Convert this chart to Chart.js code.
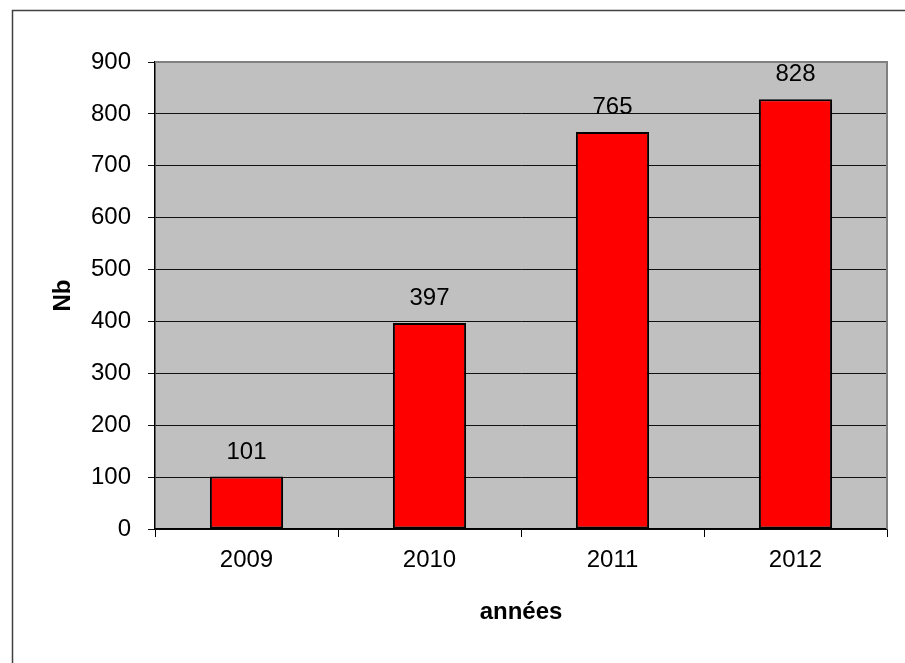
<!DOCTYPE html>
<html>
<head>
<meta charset="utf-8">
<script src="https://cdn.jsdelivr.net/npm/chart.js@4/dist/chart.umd.min.js"></script>
<style>
  html, body { margin: 0; padding: 0; background: #ffffff; }
  #wrap { width: 905px; height: 663px; }
</style>
</head>
<body>
<div id="wrap"><canvas id="chart" width="905" height="663"></canvas></div>
<script>
// Données
const annees = ['2009', '2010', '2011', '2012'];
const nombres = [101, 397, 765, 828];
const yTicks = [0, 100, 200, 300, 400, 500, 600, 700, 800, 900];

const FONT = '"Liberation Sans", Arial, sans-serif';
const FONT_SIZE = 24;

// fond gris de la zone de tracé + cadre extérieur
const plotBackground = {
    id: 'plotBackground',
    beforeDraw(chart) {
        const { ctx, chartArea: a } = chart;
        ctx.save();
        ctx.fillStyle = '#c0c0c0';
        ctx.fillRect(a.left, a.top, a.right - a.left, a.bottom - a.top);
        // cadre du graphique (seuls les bords gauche et haut sont visibles)
        ctx.strokeStyle = '#404040';
        ctx.lineWidth = 1.5;
        ctx.beginPath();
        ctx.moveTo(12.5, chart.height + 5);
        ctx.lineTo(12.5, 10.5);
        ctx.lineTo(chart.width + 5, 10.5);
        ctx.stroke();
        ctx.restore();
    },
    afterDraw(chart) {
        const { ctx, chartArea: a } = chart;
        ctx.save();
        ctx.strokeStyle = '#808080';
        ctx.lineWidth = 2;
        ctx.beginPath();
        ctx.moveTo(a.left, a.top);
        ctx.lineTo(a.right, a.top);
        ctx.lineTo(a.right, a.bottom);
        ctx.stroke();
        ctx.restore();
    }
};

// étiquettes de valeurs au-dessus des barres
const valueLabels = {
    id: 'valueLabels',
    afterDatasetsDraw(chart) {
        const { ctx } = chart;
        const meta = chart.getDatasetMeta(0);
        ctx.save();
        ctx.fillStyle = '#000000';
        ctx.font = FONT_SIZE + 'px ' + FONT;
        ctx.textAlign = 'center';
        ctx.textBaseline = 'alphabetic';
        meta.data.forEach((bar, i) => {
            ctx.fillText(String(nombres[i]), bar.x, bar.y - 18);
        });
        ctx.restore();
    }
};

new Chart(document.getElementById('chart'), {
    type: 'bar',
    data: {
        labels: annees,
        datasets: [{
            label: 'Nb',
            data: nombres,
            backgroundColor: '#ff0000',
            borderColor: '#000000',
            borderWidth: 2,
            borderSkipped: false,
            barPercentage: 0.4,
            categoryPercentage: 1.0
        }]
    },
    options: {
        responsive: false,
        animation: false,
        layout: {
            padding: { left: 0, top: 62, right: 18, bottom: 0 }
        },
        plugins: {
            legend: { display: false },
            tooltip: { enabled: false }
        },
        scales: {
            x: {
                grid: {
                    drawOnChartArea: false,
                    drawTicks: true,
                    tickLength: 8,
                    color: '#000000'
                },
                border: { display: true, color: '#000000', width: 1.5 },
                ticks: {
                    color: '#000000',
                    padding: 9,
                    font: { family: FONT, size: FONT_SIZE }
                },
                title: {
                    display: true,
                    text: 'années',
                    color: '#000000',
                    font: { family: FONT, size: FONT_SIZE, weight: 'bold' },
                    padding: { top: 0, bottom: 36 }
                },
                afterFit(scale) { scale.height = 134; }
            },
            y: {
                min: 0,
                max: 900,
                afterBuildTicks(scale) {
                    scale.ticks = yTicks.map(v => ({ value: v }));
                },
                grid: {
                    color: '#111111',
                    lineWidth: 1,
                    drawTicks: true,
                    tickLength: 7
                },
                border: { display: true, color: '#000000', width: 1.5 },
                ticks: {
                    color: '#000000',
                    padding: 17,
                    font: { family: FONT, size: FONT_SIZE }
                },
                title: {
                    display: true,
                    text: 'Nb',
                    color: '#000000',
                    font: { family: FONT, size: FONT_SIZE, weight: 'bold' },
                    padding: { top: 49, bottom: 0 }
                },
                afterFit(scale) { scale.width = 155; }
            }
        }
    },
    plugins: [plotBackground, valueLabels]
});
</script>
</body>
</html>
